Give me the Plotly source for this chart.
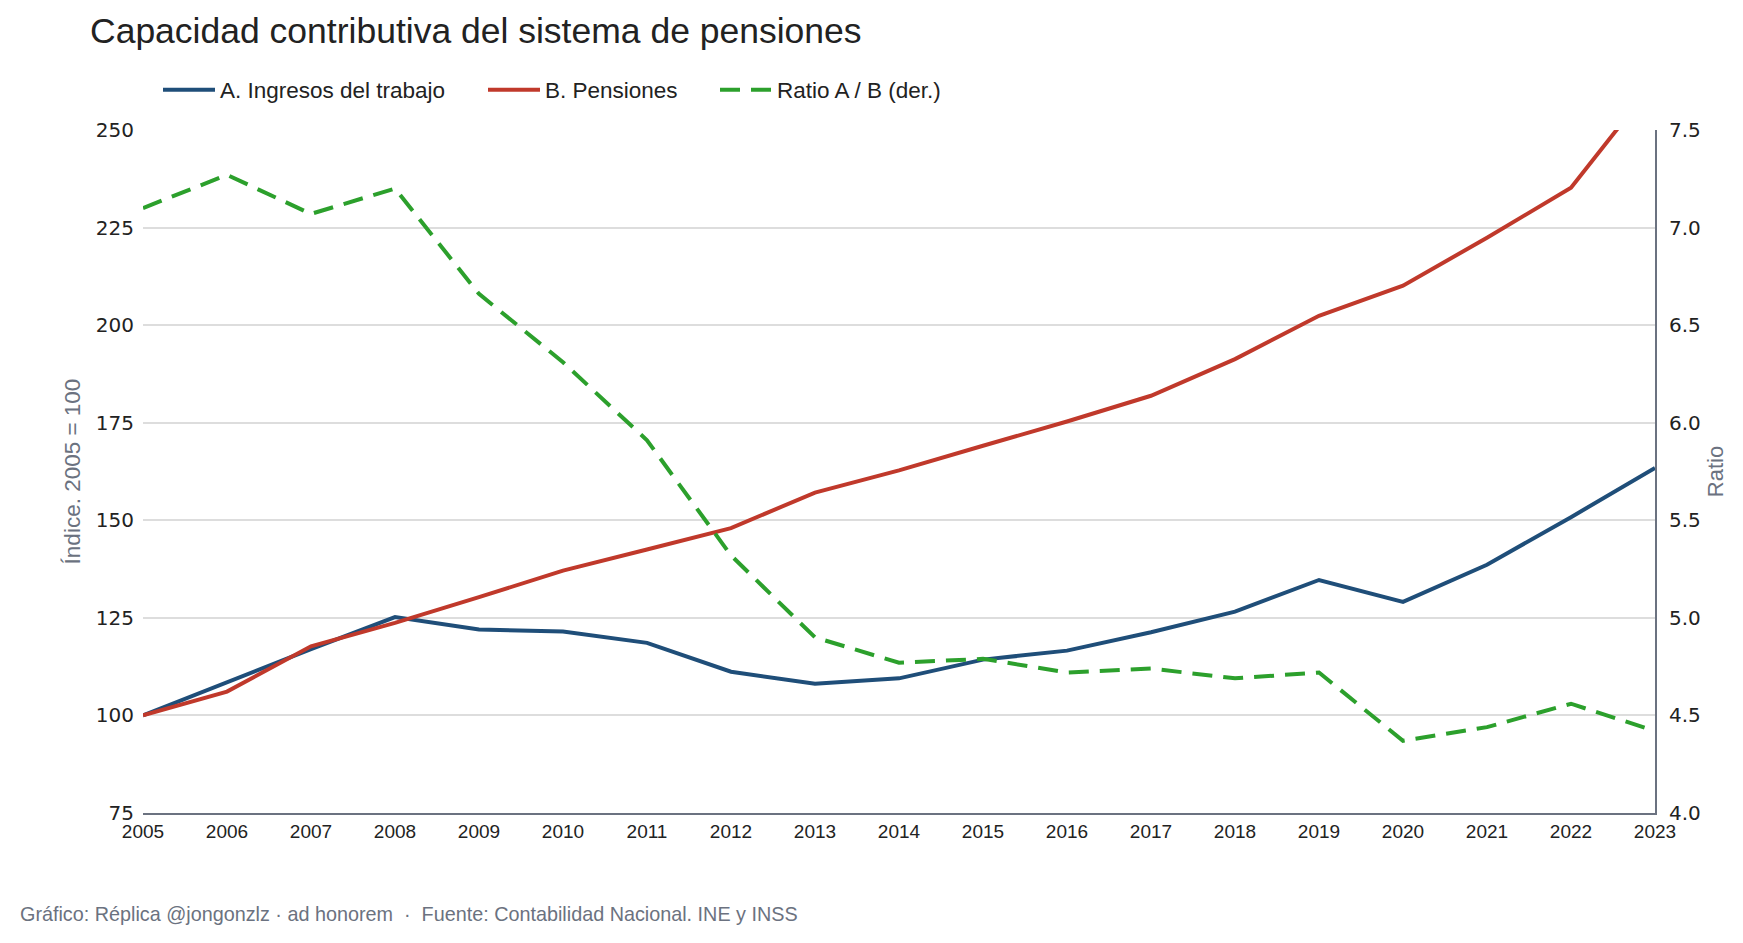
import plotly.graph_objects as go

years = list(range(2005, 2024))
ingresos = [100, 108.6, 117.0, 125.2, 122.0, 121.5, 118.6, 111.2, 108.1, 109.5,
            114.3, 116.6, 121.3, 126.6, 134.7, 129.1, 138.6, 150.8, 163.4]
pensiones = [100, 106.1, 117.7, 123.7, 130.3, 137.1, 142.5, 148.0, 157.1, 162.8,
             169.1, 175.3, 181.9, 191.3, 202.4, 210.1, 222.4, 235.2, 262.5]
ratio = [7.10, 7.27, 7.07, 7.20, 6.66, 6.31, 5.91, 5.32, 4.90, 4.77,
         4.79, 4.72, 4.74, 4.69, 4.72, 4.37, 4.44, 4.56, 4.42]

left_ticks = [75, 100, 125, 150, 175, 200, 225, 250]
right_ticks = [4.0, 4.5, 5.0, 5.5, 6.0, 6.5, 7.0, 7.5]

BLUE = "#1f4e79"
RED = "#c0392b"
GREEN = "#2ca02c"
GRAY = "#6b7280"
FONT = "Liberation Sans, Arial, sans-serif"

fig = go.Figure()
fig.add_trace(go.Scatter(x=years, y=ingresos, name="A. Ingresos del trabajo",
                         mode="lines", line=dict(color=BLUE, width=4), legend="legend"))
fig.add_trace(go.Scatter(x=years, y=pensiones, name="B. Pensiones",
                         mode="lines", line=dict(color=RED, width=4), legend="legend2"))
fig.add_trace(go.Scatter(x=years, y=ratio, name="Ratio A / B (der.)", yaxis="y2",
                         mode="lines", line=dict(color=GREEN, width=4, dash="20px,11px"),
                         legend="legend3"))


def leg(px):
    return dict(orientation="h", x=(px - 143) / 1512, xanchor="left",
                y=1 + 40 / 683, yanchor="middle",
                font=dict(size=22.5, color="#222222", family=FONT),
                itemwidth=52, bgcolor="rgba(0,0,0,0)")


fig.update_layout(
    width=1743, height=943,
    paper_bgcolor="white", plot_bgcolor="white",
    margin=dict(l=143, r=88, t=130, b=130),
    font=dict(family=FONT, color="#222222"),
    title=dict(text="Capacidad contributiva del sistema de pensiones",
               x=90 / 1743, xanchor="left", xref="container",
               y=1 - 31 / 943, yanchor="middle", yref="container",
               font=dict(size=35.5, color="#222222", family=FONT)),
    legend=leg(158), legend2=leg(483), legend3=leg(715),
    showlegend=True,
    xaxis=dict(range=[2005, 2023], tickvals=years, ticktext=[str(y) for y in years],
               showgrid=False, showline=True, linecolor=GRAY, linewidth=2,
               ticks="", zeroline=False,
               tickfont=dict(size=19, color="#222222", family=FONT)),
    yaxis=dict(range=[75, 250], tickvals=left_ticks, showgrid=True,
               gridcolor="#dddddd", gridwidth=1.5, zeroline=False, showline=False,
               ticks="", ticklabelstandoff=8,
               tickfont=dict(size=20, color="#222222", family="DejaVu Sans, sans-serif"),
               title=dict(text="Índice. 2005 = 100", standoff=8,
                          font=dict(size=22.5, color=GRAY, family=FONT))),
    yaxis2=dict(range=[4.0, 7.5], tickvals=right_ticks, tickformat=".1f",
                overlaying="y", side="right", showgrid=False, zeroline=False,
                showline=True, linecolor=GRAY, linewidth=2, ticks="",
                ticklabelstandoff=8,
                tickfont=dict(size=20, color="#222222", family="DejaVu Sans, sans-serif"),
                title=dict(text="Ratio", standoff=8,
                           font=dict(size=22, color=GRAY, family=FONT))),
)

fig.add_annotation(text="Gráfico: Réplica @jongonzlz · ad honorem  ·  Fuente: Contabilidad Nacional. INE y INSS",
                   xref="paper", yref="paper", x=-(143 - 18) / 1512, xanchor="left",
                   y=-(914 - 813) / 683, yanchor="middle", showarrow=False,
                   font=dict(size=19.8, color=GRAY, family=FONT))

fig.write_html("out.html")
